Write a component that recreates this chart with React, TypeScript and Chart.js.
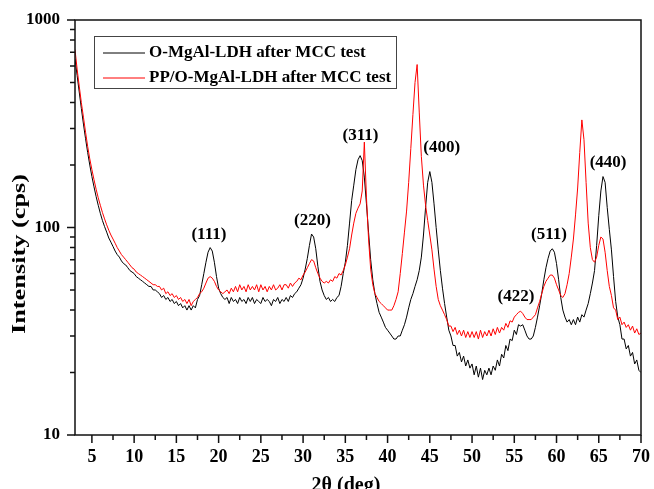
import React, { useEffect, useRef } from 'react';
import { Chart, registerables } from 'chart.js';

Chart.register(...registerables);

const FONT = '"Liberation Serif", "Times New Roman", serif';

// 2θ scan grid (deg)
const twoTheta: number[] = [
  3, 3.25, 3.5, 3.75, 4, 4.25, 4.5, 4.75, 5, 5.25, 5.5, 5.75, 6, 6.25, 6.5, 6.75,
  7, 7.25, 7.5, 7.75, 8, 8.25, 8.5, 8.75, 9, 9.25, 9.5, 9.75, 10, 10.25, 10.5, 10.75,
  11, 11.25, 11.5, 11.75, 12, 12.25, 12.5, 12.75, 13, 13.25, 13.5, 13.75, 14, 14.25, 14.5, 14.75,
  15, 15.25, 15.5, 15.75, 16, 16.25, 16.5, 16.75, 17, 17.25, 17.5, 17.75, 18, 18.25, 18.5, 18.75,
  19, 19.25, 19.5, 19.75, 20, 20.25, 20.5, 20.75, 21, 21.25, 21.5, 21.75, 22, 22.25, 22.5, 22.75,
  23, 23.25, 23.5, 23.75, 24, 24.25, 24.5, 24.75, 25, 25.25, 25.5, 25.75, 26, 26.25, 26.5, 26.75,
  27, 27.25, 27.5, 27.75, 28, 28.25, 28.5, 28.75, 29, 29.25, 29.5, 29.75, 30, 30.25, 30.5, 30.75,
  31, 31.25, 31.5, 31.75, 32, 32.25, 32.5, 32.75, 33, 33.25, 33.5, 33.75, 34, 34.25, 34.5, 34.75,
  35, 35.25, 35.5, 35.75, 36, 36.25, 36.5, 36.75, 37, 37.25, 37.5, 37.75, 38, 38.25, 38.5, 38.75,
  39, 39.25, 39.5, 39.75, 40, 40.25, 40.5, 40.75, 41, 41.25, 41.5, 41.75, 42, 42.25, 42.5, 42.75,
  43, 43.25, 43.5, 43.75, 44, 44.25, 44.5, 44.75, 45, 45.25, 45.5, 45.75, 46, 46.25, 46.5, 46.75,
  47, 47.25, 47.5, 47.75, 48, 48.25, 48.5, 48.75, 49, 49.25, 49.5, 49.75, 50, 50.25, 50.5, 50.75,
  51, 51.25, 51.5, 51.75, 52, 52.25, 52.5, 52.75, 53, 53.25, 53.5, 53.75, 54, 54.25, 54.5, 54.75,
  55, 55.25, 55.5, 55.75, 56, 56.25, 56.5, 56.75, 57, 57.25, 57.5, 57.75, 58, 58.25, 58.5, 58.75,
  59, 59.25, 59.5, 59.75, 60, 60.25, 60.5, 60.75, 61, 61.25, 61.5, 61.75, 62, 62.25, 62.5, 62.75,
  63, 63.25, 63.5, 63.75, 64, 64.25, 64.5, 64.75, 65, 65.25, 65.5, 65.75, 66, 66.25, 66.5, 66.75,
  67, 67.25, 67.5, 67.75, 68, 68.25, 68.5, 68.75, 69, 69.25, 69.5, 69.75, 70,
];

// O-MgAl-LDH after MCC test (black)
const ldhIntensity: number[] = [
  650, 540, 450, 375, /* 4 */ 315, 268, 230, 200, /* 5 */ 176, 157, 141, 128, /* 6 */ 117, 108, 101, 95,
  /* 7 */ 89, 85, 81, 77, /* 8 */ 74, 72, 69, 67, /* 9 */ 66, 64, 62, 61, /* 10 */ 60, 58, 57, 56,
  /* 11 */ 55, 54, 53, 52, /* 12 */ 52, 50, 50, 49, /* 13 */ 48, 46, 47, 45, /* 14 */ 46, 44, 45, 43,
  /* 15 */ 44, 42, 43, 41, /* 16 */ 42, 40, 42, 40, /* 17 */ 42, 41, 45, 47, /* 18 */ 53, 60, 68, 76,
  /* 19 */ 80, 77, 68, 58, /* 20 */ 51, 48, 46, 45, /* 21 */ 46, 43, 46, 44, /* 22 */ 45, 43, 46, 44,
  /* 23 */ 45, 43, 46, 44, /* 24 */ 46, 43, 45, 44, /* 25 */ 43, 46, 44, 45, /* 26 */ 44, 42, 45, 44,
  /* 27 */ 46, 43, 45, 44, /* 28 */ 46, 44, 47, 46, /* 29 */ 48, 49, 51, 53, /* 30 */ 57, 63, 71, 82,
  /* 31 */ 93, 90, 79, 65, /* 32 */ 55, 50, 47, 45, /* 33 */ 46, 44, 45, 44, /* 34 */ 46, 47, 52, 60,
  /* 35 */ 68, 82, 105, 135, /* 36 */ 160, 190, 212, 222, /* 37 */ 210, 175, 130, 95, /* 38 */ 70, 56, 48, 43,
  /* 39 */ 39, 37, 35, 33, /* 40 */ 32, 31, 30, 29, /* 41 */ 29, 30, 30, 32, /* 42 */ 34, 37, 41, 45,
  /* 43 */ 48, 52, 56, 62, /* 44 */ 72, 92, 125, 165, /* 45 */ 186, 165, 130, 100, /* 46 */ 78, 62, 51, 43,
  /* 47 */ 37, 32, 30, 27, /* 48 */ 27, 24, 25, 22.5, /* 49 */ 24, 21.5, 23, 21, /* 50 */ 22, 19.5, 21.5, 19,
  /* 51 */ 21, 18.5, 20.5, 19.5, /* 52 */ 21, 19.5, 21.5, 20.5, /* 53 */ 23, 21.5, 24.5, 23.5, /* 54 */ 27, 25.5, 29, 28.5,
  /* 55 */ 32, 30.5, 34, 33.5, /* 56 */ 34, 32, 30, 29, /* 57 */ 29, 30, 33, 37, /* 58 */ 42, 48, 56, 64,
  /* 59 */ 71, 77, 79, 76, /* 60 */ 67, 56, 46, 40, /* 61 */ 37, 35, 36, 34, /* 62 */ 36, 34, 37, 35,
  /* 63 */ 38, 37, 40, 43, /* 64 */ 48, 54, 62, 82, /* 65 */ 114, 150, 176, 165, /* 66 */ 125, 98, 78, 58,
  /* 67 */ 44, 37, 34, 29, /* 68 */ 29, 26, 27, 24, /* 69 */ 25, 22, 23, 20.5, /* 70 */ 20,
];

// PP/O-MgAl-LDH after MCC test (red)
const ppLdhIntensity: number[] = [
  720, 580, 480, 400, /* 4 */ 340, 288, 246, 214, /* 5 */ 190, 170, 153, 139, /* 6 */ 128, 118, 110, 103,
  /* 7 */ 97, 92, 88, 84, /* 8 */ 80, 77, 74, 72, /* 9 */ 70, 68, 66, 64, /* 10 */ 63, 61, 60, 59,
  /* 11 */ 58, 57, 56, 55, /* 12 */ 54, 53, 53, 52, /* 13 */ 52, 50, 51, 48, /* 14 */ 49, 47, 48, 46,
  /* 15 */ 47, 45, 46, 44, /* 16 */ 45, 43, 45, 42, /* 17 */ 44, 45, 46, 48, /* 18 */ 49, 51, 54, 57,
  /* 19 */ 58, 57, 55, 52, /* 20 */ 50, 49, 48, 49, /* 21 */ 50, 48, 51, 49, /* 22 */ 52, 49, 53, 50,
  /* 23 */ 52, 49, 53, 50, /* 24 */ 52, 50, 53, 49, /* 25 */ 53, 50, 52, 49, /* 26 */ 52, 50, 53, 50,
  /* 27 */ 51, 53, 50, 53, /* 28 */ 53, 51, 54, 52, /* 29 */ 54, 55, 57, 56, /* 30 */ 59, 61, 64, 67,
  /* 31 */ 70, 69, 64, 60, /* 32 */ 57, 55, 54, 55, /* 33 */ 54, 56, 55, 58, /* 34 */ 57, 60, 59, 62,
  /* 35 */ 66, 72, 79, 92, /* 36 */ 105, 117, 124, 130, /* 37 */ 150, 258, 140, 88, /* 38 */ 63, 53, 48, 46,
  /* 39 */ 44, 43, 42, 41, /* 40 */ 40, 40, 40, 42, /* 41 */ 45, 49, 60, 75, /* 42 */ 95, 120, 165, 240,
  /* 43 */ 350, 500, 610, 360, /* 44 */ 220, 160, 128, 108, /* 45 */ 92, 78, 63, 52, /* 46 */ 45, 42, 40, 38,
  /* 47 */ 36, 33.5, 33.5, 31.5, /* 48 */ 33, 30.5, 32, 30, /* 49 */ 32, 29.5, 31.5, 29.5, /* 50 */ 31.5, 29.5, 31.5, 29,
  /* 51 */ 32, 29.5, 31.5, 30, /* 52 */ 32, 30, 32.5, 30.5, /* 53 */ 33, 31, 33, 32, /* 54 */ 34.5, 33, 35.5, 35,
  /* 55 */ 37, 38, 39, 39.5, /* 56 */ 38.5, 37, 36, 36, /* 57 */ 36, 37, 38, 41, /* 58 */ 44, 48, 52, 55,
  /* 59 */ 57, 59, 59, 57, /* 60 */ 53, 50, 47, 46, /* 61 */ 48, 53, 60, 72, /* 62 */ 88, 115, 155, 230,
  /* 63 */ 330, 265, 165, 105, /* 64 */ 80, 70, 68, 72, /* 65 */ 82, 90, 88, 76, /* 66 */ 62, 52, 47, 41,
  /* 67 */ 40, 36, 37, 34, /* 68 */ 35, 33, 34, 32, /* 69 */ 33.5, 31, 32.5, 30.5, /* 70 */ 31,
];

const seriesNames = ['O-MgAl-LDH after MCC test', 'PP/O-MgAl-LDH after MCC test'];
const seriesColors = ['#000000', '#ff0000'];

const xMajorTicks = [5, 10, 15, 20, 25, 30, 35, 40, 45, 50, 55, 60, 65, 70];
const xMinorTicks = [7.5, 12.5, 17.5, 22.5, 27.5, 32.5, 37.5, 42.5, 47.5, 52.5, 57.5, 62.5, 67.5];
const yMajorTicks = [10, 100, 1000];
const yMinorTicks = [20, 30, 40, 50, 60, 70, 80, 90, 200, 300, 400, 500, 600, 700, 800, 900];

const peakNames = ['(111)', '(220)', '(311)', '(400)', '(422)', '(511)', '(440)'];
const peakLabelX = [18.85, 31.1, 36.8, 46.4, 55.2, 59.1, 66.1];
const peakLabelY = [92, 108, 277, 243, 46.5, 92, 205];

const overlayPlugin = {
  id: 'overlay',
  afterDraw(chart: any) {
    const ctx: CanvasRenderingContext2D = chart.ctx;
    const { left, right, top, bottom } = chart.chartArea;
    const xs = chart.scales.x;
    const ys = chart.scales.y;
    ctx.save();
    // frame
    ctx.strokeStyle = '#111';
    ctx.lineWidth = 1.5;
    ctx.strokeRect(left, top, right - left, bottom - top);
    // ticks
    ctx.beginPath();
    xMajorTicks.forEach((v) => {
      const p = xs.getPixelForValue(v);
      ctx.moveTo(p, bottom);
      ctx.lineTo(p, bottom + 8);
    });
    xMinorTicks.forEach((v) => {
      const p = xs.getPixelForValue(v);
      ctx.moveTo(p, bottom);
      ctx.lineTo(p, bottom + 5);
    });
    yMajorTicks.forEach((v) => {
      const p = ys.getPixelForValue(v);
      ctx.moveTo(left - 8, p);
      ctx.lineTo(left, p);
    });
    yMinorTicks.forEach((v) => {
      const p = ys.getPixelForValue(v);
      ctx.moveTo(left - 5, p);
      ctx.lineTo(left, p);
    });
    ctx.stroke();

    // peak labels
    ctx.fillStyle = '#000';
    ctx.font = `bold 17px ${FONT}`;
    ctx.textAlign = 'center';
    ctx.textBaseline = 'middle';
    peakNames.forEach((t, i) => {
      ctx.fillText(t, xs.getPixelForValue(peakLabelX[i]), ys.getPixelForValue(peakLabelY[i]));
    });

    // legend
    const bx = left + 19;
    const by = top + 16;
    ctx.strokeStyle = '#444';
    ctx.lineWidth = 1;
    ctx.strokeRect(bx + 0.5, by + 0.5, 302, 52);
    ctx.textAlign = 'left';
    seriesNames.forEach((name, i) => {
      const ly = by + 17 + i * 25;
      ctx.strokeStyle = seriesColors[i];
      ctx.beginPath();
      ctx.moveTo(bx + 9, ly);
      ctx.lineTo(bx + 51, ly);
      ctx.stroke();
      ctx.fillStyle = '#000';
      ctx.fillText(name, bx + 55, ly);
    });

    // y title
    ctx.save();
    ctx.translate(20, 254);
    ctx.rotate(-Math.PI / 2);
    ctx.font = `bold 19px ${FONT}`;
    ctx.textAlign = 'center';
    const yt = 'Intensity (cps)';
    const w = ctx.measureText(yt).width;
    ctx.scale(160 / w, 1);
    ctx.fillText(yt, 0, 0);
    ctx.restore();

    // x title
    ctx.font = `bold 20px ${FONT}`;
    ctx.textAlign = 'center';
    ctx.textBaseline = 'alphabetic';
    ctx.fillText('2θ (deg)', 346, 491);
    ctx.restore();
  },
};

export default function App() {
  const ref = useRef<HTMLCanvasElement | null>(null);
  useEffect(() => {
    if (!ref.current) return;
    const chart = new Chart(ref.current, {
      type: 'line',
      data: {
        datasets: [
          {
            label: seriesNames[0],
            data: twoTheta.map((x, i) => ({ x, y: ldhIntensity[i] })),
            borderColor: seriesColors[0],
            borderWidth: 1,
            pointRadius: 0,
            tension: 0,
            order: 1,
          },
          {
            label: seriesNames[1],
            data: twoTheta.map((x, i) => ({ x, y: ppLdhIntensity[i] })),
            borderColor: seriesColors[1],
            borderWidth: 1,
            pointRadius: 0,
            tension: 0,
            order: 0,
          },
        ],
      },
      options: {
        responsive: false,
        maintainAspectRatio: false,
        animation: false,
        layout: { padding: { top: 20, right: 12, left: 0, bottom: 0 } },
        plugins: { legend: { display: false }, tooltip: { enabled: false } },
        scales: {
          x: {
            type: 'linear',
            min: 3,
            max: 70,
            grid: { display: false, drawTicks: true, tickLength: 8 },
            border: { display: false },
            afterBuildTicks: (s: any) => {
              s.ticks = xMajorTicks.map((v) => ({ value: v }));
            },
            afterFit: (s: any) => {
              s.height = 54;
            },
            ticks: {
              autoSkip: false,
              maxRotation: 0,
              padding: 4,
              color: '#000',
              font: { family: FONT, size: 18, weight: 'bold' },
              callback: (v: any) => String(v),
            },
          },
          y: {
            type: 'logarithmic',
            min: 10,
            max: 1000,
            grid: { display: false, drawTicks: true, tickLength: 8 },
            border: { display: false },
            afterBuildTicks: (s: any) => {
              s.ticks = yMajorTicks.map((v) => ({ value: v }));
            },
            afterFit: (s: any) => {
              s.width = 75;
            },
            ticks: {
              autoSkip: false,
              padding: 7,
              color: '#000',
              font: { family: FONT, size: 17, weight: 'bold' },
              callback: (v: any) => String(v),
            },
          },
        },
      },
      plugins: [overlayPlugin],
    } as any);
    return () => chart.destroy();
  }, []);
  return (
    <div style={{ position: 'fixed', left: 0, top: 0, width: 654, height: 489, background: '#fff' }}>
      <canvas ref={ref} width={654} height={489} style={{ display: 'block' }} />
    </div>
  );
}
